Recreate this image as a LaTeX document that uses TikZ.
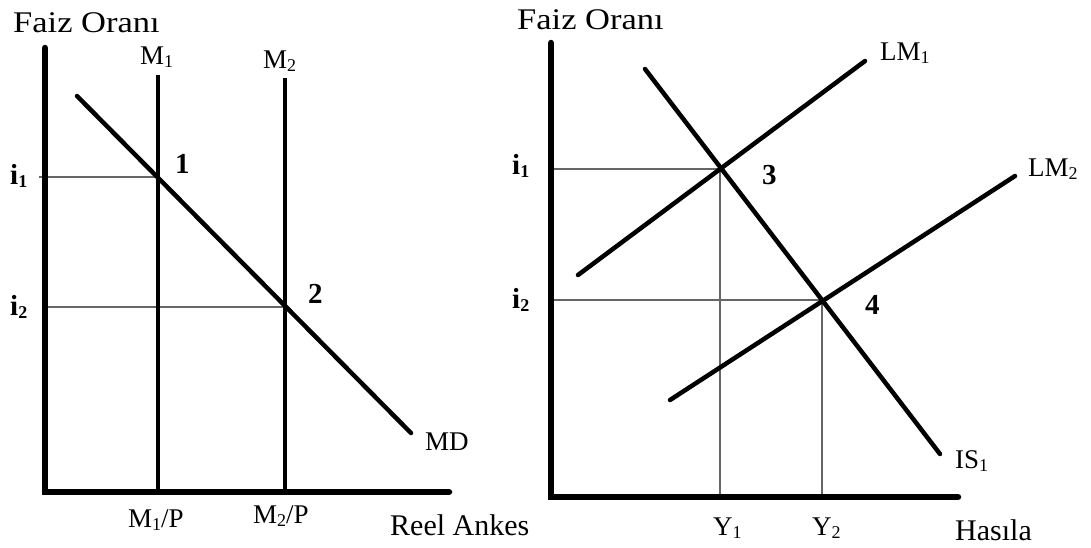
\documentclass[tikz,border=0pt]{standalone}
\usepackage{fontspec}
\setmainfont{Liberation Serif}
\newcommand{\mysub}[1]{\raisebox{-3pt}{\fontsize{18}{18}\selectfont #1}}
\begin{document}
\begin{tikzpicture}[x=1pt,y=-1pt,
  lbl/.style={anchor=base west,inner sep=0pt,font=\fontsize{27}{27}\selectfont},
  biglbl/.style={lbl,font=\fontsize{30}{30}\selectfont},
  blbl/.style={lbl,font=\fontsize{29}{29}\selectfont\bfseries},
  axisline/.style={line width=6.5pt,line cap=round},
  curve/.style={line width=4.5pt,line cap=round},
  vline/.style={line width=3.8pt},
  guide/.style={line width=1.6pt,draw=black!60}]
\useasboundingbox (0,0) rectangle (1091,547);
% ---------- left panel ----------
\coordinate (LO) at (45,492);
\coordinate (LYt) at (45,48);
\coordinate (LXr) at (449,492);
\coordinate (M1t) at (158,75);
\coordinate (M1b) at (158,492);
\coordinate (M2t) at (285,78);
\coordinate (M2b) at (285,492);
\coordinate (MDa) at (77,96);
\coordinate (MDb) at (411,433);
\coordinate (P1) at (158,177);
\coordinate (P2) at (285,307);
\coordinate (I1l) at (39,177);
\coordinate (I2l) at (45,307);
\draw[guide] (I1l) -- (P1);
\draw[guide] (I2l) -- (P2);
\draw[vline] (M1t) -- (M1b);
\draw[vline] (M2t) -- (M2b);
\draw[curve] (MDa) -- (MDb);
\draw[axisline] (LYt) -- (LO) -- (LXr);
\node[biglbl] (fo1) at (13,32) {\scalebox{1.15}[1]{Faiz Oranı}};
\node[lbl] (m1) at (140,64) {M\mysub{1}};
\node[lbl] (m2) at (263,68) {M\mysub{2}};
\node[blbl] (i1a) at (10,184) {i\mysub{1}};
\node[blbl] (i2a) at (10,315) {i\mysub{2}};
\node[blbl] (n1) at (175,173) {1};
\node[blbl] (n2) at (308,303) {2};
\node[lbl] (md) at (425,450) {MD};
\node[lbl] (m1p) at (128,527) {M\mysub{1}/P};
\node[lbl] (m2p) at (253,523) {M\mysub{2}/P};
\node[biglbl] (ra) at (390,535) {Reel Ankes};
% ---------- right panel ----------
\coordinate (RO) at (551,497);
\coordinate (RYt) at (551,43);
\coordinate (RXr) at (958,497);
\coordinate (LM1a) at (578,275);
\coordinate (LM1b) at (865,61);
\coordinate (LM2a) at (670,400);
\coordinate (LM2b) at (1015,176);
\coordinate (ISa) at (645,69);
\coordinate (ISb) at (940,454);
\coordinate (P3) at (720,169);
\coordinate (P4) at (822,300);
\coordinate (R1l) at (551,169);
\coordinate (R2l) at (551,300);
\coordinate (Y1b) at (720,497);
\coordinate (Y2b) at (822,497);
\draw[guide] (R1l) -- (P3) -- (Y1b);
\draw[guide] (R2l) -- (P4) -- (Y2b);
\draw[curve] (LM1a) -- (LM1b);
\draw[curve] (LM2a) -- (LM2b);
\draw[curve] (ISa) -- (ISb);
\draw[axisline] (RYt) -- (RO) -- (RXr);
\node[biglbl] (fo2) at (517,29) {\scalebox{1.15}[1]{Faiz Oranı}};
\node[lbl] (lm1) at (880,60) {LM\mysub{1}};
\node[lbl] (lm2) at (1028,176) {LM\mysub{2}};
\node[lbl] (is1) at (955,468) {IS\mysub{1}};
\node[blbl] (i1b) at (512,174) {i\mysub{1}};
\node[blbl] (i2b) at (512,308) {i\mysub{2}};
\node[blbl] (n3) at (762,184) {3};
\node[blbl] (n4) at (865,314) {4};
\node[lbl] (y1) at (713,535) {Y\mysub{1}};
\node[lbl] (y2) at (812,535) {Y\mysub{2}};
\node[biglbl] (has) at (955,540) {Hasıla};
\end{tikzpicture}
\end{document}
